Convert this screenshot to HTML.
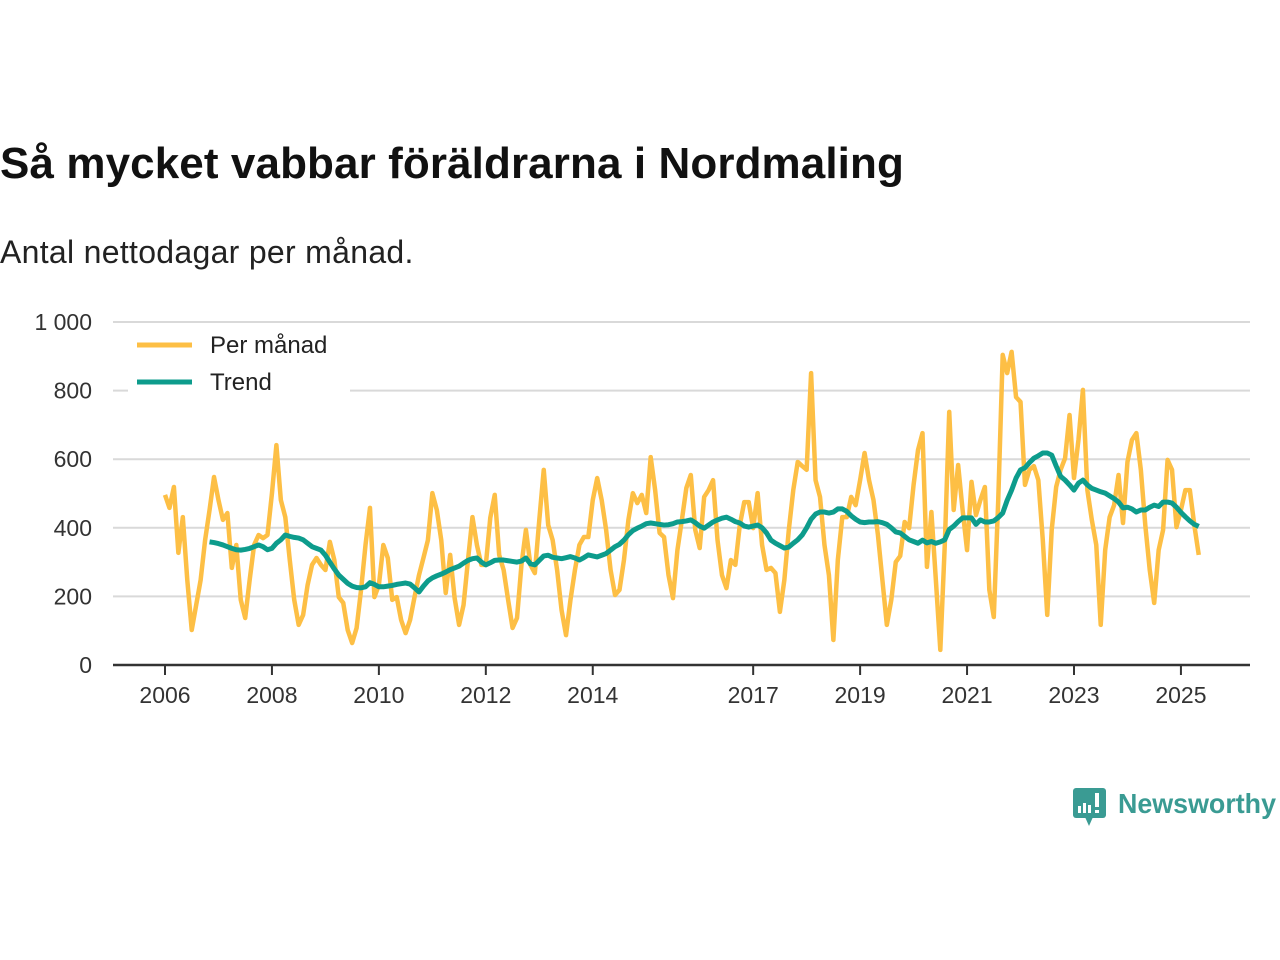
<!DOCTYPE html>
<html><head><meta charset="utf-8">
<style>
body{margin:0;background:#fff;width:1280px;height:960px;overflow:hidden;font-family:"Liberation Sans",sans-serif;}
#title{position:absolute;left:0;top:139px;font-size:44px;font-weight:bold;color:#111;margin:0;letter-spacing:0.1px}
#sub{position:absolute;left:0;top:234px;font-size:32px;color:#222;margin:0;letter-spacing:0.3px}
svg{position:absolute;left:0;top:0}
</style></head><body>
<h1 id="title">Så mycket vabbar föräldrarna i Nordmaling</h1>
<p id="sub">Antal nettodagar per månad.</p>
<svg id="chart" width="1280" height="960"></svg>
<script>
const monthly=[496,458,519,327,431,248,102,175,248,364,452,548,
481,423,443,283,350,190,137,248,350,379,370,379,
500,641,481,431,306,190,117,146,233,292,312,292,
277,359,306,198,181,102,64,108,219,350,458,198,
233,350,312,190,198,131,93,131,198,262,312,364,
501,452,364,210,321,195,117,175,306,431,350,292,
292,429,496,321,277,190,108,137,292,394,292,268,
423,569,408,364,277,160,87,190,277,350,373,373,
481,545,481,394,277,204,219,306,423,501,472,496,
443,606,510,385,373,262,195,335,423,516,554,394,
341,490,510,539,364,262,224,306,292,408,475,475,
399,501,350,277,283,268,155,248,394,510,592,580,
569,851,539,490,350,262,73,306,431,431,490,466,
539,618,539,481,379,248,117,190,300,318,417,399,
525,627,676,286,446,248,44,350,738,452,583,452,
335,534,437,481,519,219,140,481,904,851,913,781,
767,525,569,580,539,364,146,394,519,569,603,729,
545,656,802,510,423,350,117,335,431,466,554,414,
592,656,676,569,408,277,181,335,394,598,569,402,
452,510,510,408,321];
const trendStart=10;
const trend=[359,357,354,350,345,340,336,335,337,340,345,350,345,336,
340,355,365,379,375,372,370,365,355,345,340,335,
320,300,280,262,250,238,230,226,225,228,240,235,
228,228,230,232,235,237,239,236,225,213,230,245,
254,260,265,271,278,283,288,297,305,310,312,300,
292,298,305,306,306,304,302,300,303,312,295,292,
305,318,320,314,312,310,313,316,312,306,313,321,
318,315,320,325,335,345,352,364,380,392,399,405,
412,414,412,410,408,409,412,417,418,420,423,415,
405,399,408,417,423,428,431,425,418,414,405,402,
405,408,400,385,364,355,348,341,344,355,365,379,
400,425,440,446,446,443,446,455,455,448,435,425,
417,415,417,417,418,415,410,400,388,385,375,365,
360,355,364,356,360,355,359,365,395,405,418,429,
429,429,410,423,417,417,420,430,443,480,510,545,
569,575,590,603,610,618,618,612,580,550,539,525,
510,530,539,525,515,510,505,501,493,485,475,458,
460,455,446,452,452,460,466,462,475,475,472,460,
445,432,420,410,404];
const yTicks=[0,200,400,600,800,1000];
const yTickLabels=["0","200","400","600","800","1 000"];
const xTickYears=[2006,2008,2010,2012,2014,2017,2019,2021,2023,2025];
const startYear=2006;

const NS="http://www.w3.org/2000/svg";
const svg=document.getElementById('chart');
const X0=165,PXY=53.47,Y0=665,PXV=0.343;
function xm(m){return X0+m*PXY/12;}
function xy(yr){return X0+(yr-startYear)*PXY;}
function yv(v){return Y0-v*PXV;}
function mk(t,a){const e=document.createElementNS(NS,t);for(const k in a)e.setAttribute(k,a[k]);svg.appendChild(e);return e;}

yTicks.forEach((t,i)=>{
  if(t>0){const g=mk('line',{x1:113,x2:1250,y1:yv(t),y2:yv(t),stroke:'#d9d9d9','stroke-width':2});
  
  }
  const l=mk('text',{x:92,y:yv(t)+8,'text-anchor':'end','font-size':23,fill:'#333','font-family':'Liberation Sans, sans-serif'});
  l.textContent=yTickLabels[i];
  
  
});
const ax=mk('line',{x1:113,x2:1250,y1:Y0,y2:Y0,stroke:'#333','stroke-width':2.5});


xTickYears.forEach(yr=>{
  const x=xy(yr);
  const t=mk('line',{x1:x,x2:x,y1:Y0,y2:Y0+10,stroke:'#333','stroke-width':2});
  
  
  const l=mk('text',{x:x,y:703,'text-anchor':'middle','font-size':23,fill:'#333','font-family':'Liberation Sans, sans-serif'});
  l.textContent=yr;
  
  
});
const p1=mk('polyline',{points:monthly.map((v,i)=>xm(i)+','+yv(v)).join(' '),fill:'none',stroke:'#fdbf45','stroke-width':4.5,'stroke-linejoin':'round'});


const p2=mk('polyline',{points:trend.map((v,i)=>xm(i+trendStart)+','+yv(v)).join(' '),fill:'none',stroke:'#0d9c8c','stroke-width':5,'stroke-linejoin':'round'});


// legend
const lb=mk('rect',{x:128,y:328,width:222,height:64,fill:'#fff'});


[['Per månad','#fdbf45',345],['Trend','#0d9c8c',382]].forEach(([n,c,y])=>{
  const s=mk('line',{x1:137,x2:192,y1:y,y2:y,stroke:c,'stroke-width':5});
  
  
  const t=mk('text',{x:210,y:y+8,'font-size':24,fill:'#222','font-family':'Liberation Sans, sans-serif'});
  t.textContent=n;
  
  
});
// logo
const lg=mk('g',{});


lg.innerHTML='<rect x="1073" y="788" width="33" height="30" rx="3" fill="#3a9b93"/><polygon points="1085,817 1093,817 1089,826" fill="#3a9b93"/><rect x="1078" y="806" width="3" height="7" fill="#fff"/><rect x="1083" y="803" width="3" height="10" fill="#fff"/><rect x="1088" y="805" width="3" height="8" fill="#fff"/><rect x="1095" y="793" width="4" height="14" fill="#fff"/><rect x="1095" y="810" width="4" height="3" fill="#fff"/><text x="1118" y="813" font-size="28" font-weight="bold" fill="#3a9b93" font-family="Liberation Sans, sans-serif" textLength="158" lengthAdjust="spacingAndGlyphs">Newsworthy</text>';
svg.appendChild(lg);
</script>
</body></html>
